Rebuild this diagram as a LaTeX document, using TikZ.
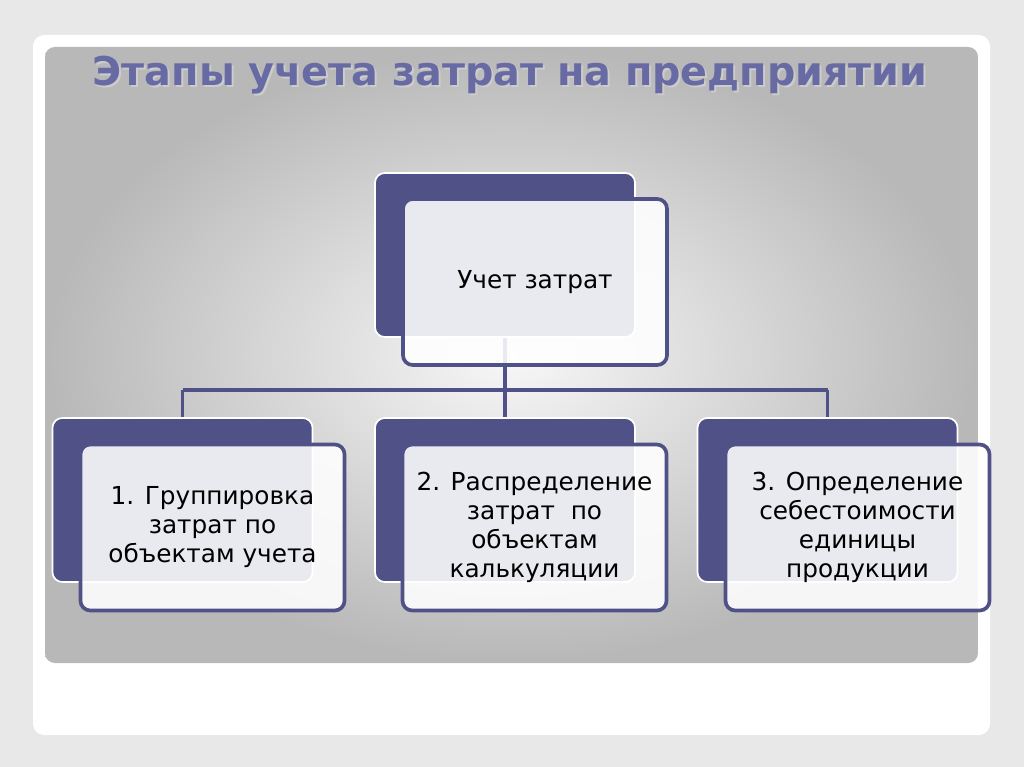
\documentclass[tikz,border=0pt]{standalone}
\usepackage{fontspec}
\setmainfont{DejaVu Sans}
\usetikzlibrary{positioning}
\definecolor{navy}{RGB}{80,82,135}
\definecolor{titleblue}{RGB}{104,106,163}

\begin{document}
\begin{tikzpicture}[x=0.025cm, y=-0.025cm,
  backbox/.style={draw=white, line width=1.2pt, fill=navy, rounded corners=7pt, minimum width=6.5cm, minimum height=4.1cm},
  frontbox/.style={draw=navy, line width=2.6pt, fill=white, fill opacity=0.88, text opacity=1, rounded corners=7pt,
    minimum width=6.6cm, minimum height=4.15cm, align=center, font=\fontsize{17.6}{20.6}\selectfont},
  link/.style={draw=navy, line width=2.8pt}
]

% Slide background
\fill[gray!18] (0,0) rectangle (1024,767);
\fill[white, rounded corners=8pt] (33,35) rectangle (990,735);
\shade[rounded corners=7pt, inner color=gray!6, outer color=gray!56] (45,47) rectangle (978,663);

% Title
\node[text=gray!40, font=\fontsize{28.2}{32}\selectfont\bfseries] (titleshade) at (512,77) {Этапы учета затрат на предприятии};
\node[text=titleblue, font=\fontsize{28.2}{32}\selectfont\bfseries] (title) at (510,75) {Этапы учета затрат на предприятии};

% Back boxes
\node[backbox] (topback) at (505,255) {};
\node[backbox] (leftback) at (182.5,500) {};
\node[backbox] (midback) at (505,500) {};
\node[backbox] (rightback) at (827.5,500) {};

% Connectors
\coordinate (bus) at (505,390);
\draw[link] (topback.south) -- (bus);
\draw[link] (leftback.north |- bus) -- (rightback.north |- bus);
\draw[link] (leftback.north |- bus) -- (leftback.north);
\draw[link] (bus) -- (midback.north);
\draw[link] (rightback.north |- bus) -- (rightback.north);

% Front boxes
\node[frontbox] (top) at (535,282) {Учет затрат};
\node[frontbox] (left) at (212.5,527.5) {1. Группировка\\затрат по\\объектам учета};
\node[frontbox] (mid) at (534.5,527.5) {2. Распределение\\затрат\ \ по\\объектам\\калькуляции};
\node[frontbox] (right) at (857.5,527.5) {3. Определение\\себестоимости\\единицы\\продукции};

\end{tikzpicture}
\end{document}
